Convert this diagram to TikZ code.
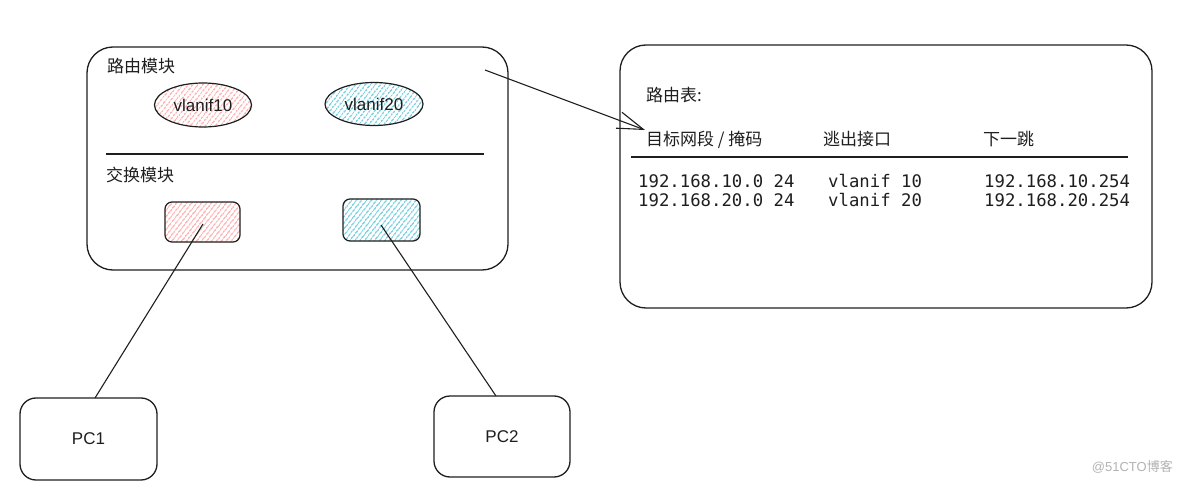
\documentclass[tikz,border=0pt]{standalone}
\usepackage{fontspec}
\setmainfont{Liberation Sans}
\setmonofont{DejaVu Sans Mono}
\newfontfamily\cjk{Noto Sans CJK SC}
\usetikzlibrary{patterns,patterns.meta,arrows.meta}
\definecolor{ink}{HTML}{1E1E1E}
\definecolor{pinkhatch}{HTML}{FF8F8F}
\definecolor{bluehatch}{HTML}{3EBCD2}
\tikzset{
  frame/.style={draw=ink, line width=1.3pt, rounded corners=#1},
  pinkshape/.style={draw=ink, line width=1.2pt, preaction={fill=white}, pattern={Lines[angle=52, distance=4pt, line width=1.3pt]}, pattern color=pinkhatch},
  blueshape/.style={draw=ink, line width=1.2pt, preaction={fill=white}, pattern={Lines[angle=52, distance=4pt, line width=1.3pt]}, pattern color=bluehatch},
  cjklabel/.style={anchor=base west, inner sep=0pt, text=ink, font=\cjk\fontsize{17}{20}\selectfont},
  monolabel/.style={anchor=base west, inner sep=0pt, text=ink, font=\ttfamily\fontsize{17.3}{20}\selectfont},
  sanslabel/.style={inner sep=0pt, text=ink, font=\fontsize{17}{20}\selectfont},
  wire/.style={draw=ink, line width=1.1pt}
}
\begin{document}
\begin{tikzpicture}[x=1pt, y=-1pt]
\useasboundingbox (0,0) rectangle (1184,484);
% left switch box
\draw[frame=26pt] (87,47) rectangle (508,270);
\node[cjklabel] (rt) at (107,73) {路由模块};
\node[cjklabel] (sw) at (106,182) {交换模块};
\draw[wire, line width=1.4pt] (106,154) -- (484,154);
% vlanif ellipses
\draw[pinkshape] (203,105) ellipse [x radius=48.5pt, y radius=22pt];
\node[sanslabel] (v10) at (203,105) {vlanif10};
\draw[blueshape] (374,104) ellipse [x radius=49pt, y radius=21.5pt];
\node[sanslabel] (v20) at (374,104) {vlanif20};
% switch ports
\draw[pinkshape, rounded corners=7pt] (165,202) rectangle (240,242);
\coordinate (p1) at (203,224);
\draw[blueshape, rounded corners=7pt] (343,199) rectangle (420,241);
\coordinate (p2) at (381,225);
% PCs
\node[draw=ink, line width=1.3pt, rounded corners=16pt, minimum width=137pt, minimum height=82pt, sanslabel] (pc1) at (88.5,439) {PC1};
\node[draw=ink, line width=1.3pt, rounded corners=16pt, minimum width=136pt, minimum height=81pt, sanslabel] (pc2) at (502,436.5) {PC2};
\draw[wire] (p1) -- (95,398);
\draw[wire] (p2) -- (496,396);
% routing table box
\draw[frame=26pt] (620,45) rectangle (1152,308);
\node[cjklabel] (tt) at (646,102) {路由表:};
\node[cjklabel] (h1) at (646,146) {目标网段 / 掩码};
\node[cjklabel] (h2) at (823,146) {逃出接口};
\node[cjklabel] (h3) at (983,146) {下一跳};
\draw[wire, line width=1.5pt] (631,157) -- (1128,157);
\node[monolabel] (a1) at (638,187) {192.168.10.0 24};
\node[monolabel] (b1) at (828,187) {vlanif 10};
\node[monolabel] (c1) at (984,187) {192.168.10.254};
\node[monolabel] (a2) at (638,207) {192.168.20.0 24};
\node[monolabel] (b2) at (828,207) {vlanif 20};
\node[monolabel] (c2) at (984,207) {192.168.20.254};
% arrow
\coordinate (as) at (485,70);
\coordinate (ae) at (645,130);
\draw[wire, -{Straight Barb[length=26pt, width=17pt, line width=1.1pt]}] (as) -- (ae);
% watermark
\node[anchor=east, inner sep=0pt, text=black!30, font=\fontsize{13}{15}\selectfont] (wm) at (1173,467) {@51CTO{\cjk 博客}};
\end{tikzpicture}
\end{document}
